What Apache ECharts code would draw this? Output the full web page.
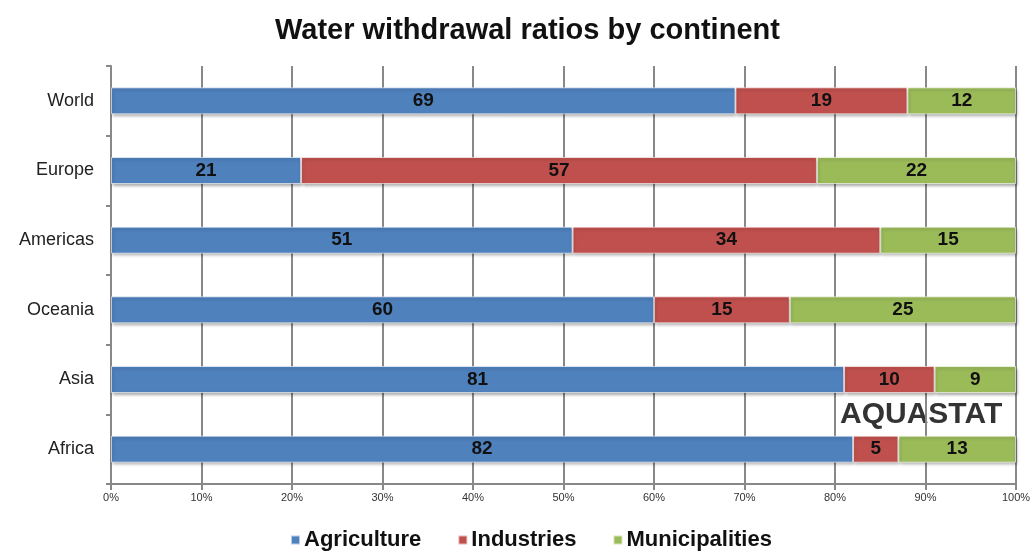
<!DOCTYPE html>
<html><head><meta charset="utf-8">
<script src="https://cdn.jsdelivr.net/npm/echarts@6/dist/echarts.min.js"></script>
<style>html,body{margin:0;padding:0;background:#fff}#c{width:1035px;height:551px}</style>
</head><body><div id="c"></div>
<script>
const categories = ['Africa', 'Asia', 'Oceania', 'Americas', 'Europe', 'World'];
const agriculture = [82, 81, 60, 51, 21, 69];
const industries = [5, 10, 15, 34, 57, 19];
const municipalities = [13, 9, 25, 15, 22, 12];

const chart = echarts.init(document.getElementById('c'), null, {renderer: 'canvas'});
const labelStyle = {show: true, position: 'inside', color: '#111', fontWeight: 'bold', fontSize: 19, fontFamily: 'Liberation Sans, Arial, sans-serif'};
const itemBase = {shadowColor: 'rgba(0,0,0,0.35)', shadowBlur: 3, shadowOffsetY: 2, shadowOffsetX: 1, borderColor: 'rgba(255,255,255,0.6)', borderWidth: 1};
function mk(name, data, color) {
  return {name, type: 'bar', stack: 't', data, barWidth: 27,
    itemStyle: Object.assign({color}, itemBase), label: labelStyle, emphasis: {disabled: true}};
}
chart.setOption({
  animation: false,
  textStyle: {fontFamily: 'Liberation Sans, Arial, sans-serif'},
  title: {text: 'Water withdrawal ratios by continent', left: 270, top: 11,
    textStyle: {fontSize: 29, fontWeight: 'bold', color: '#111'}},
  legend: {top: 524, left: 285, itemWidth: 9, itemHeight: 9, itemGap: 36, icon: 'rect',
    textStyle: {fontSize: 22, fontWeight: 'bold', color: '#111', padding: [0, 0, 0, -1]}},
  grid: {left: 111, right: 19, top: 66, bottom: 67},
  xAxis: {type: 'value', min: 0, max: 100, interval: 10,
    axisLine: {show: true, lineStyle: {color: '#888', width: 2}},
    axisTick: {show: true, length: 6, lineStyle: {color: '#888', width: 2}},
    splitLine: {show: true, lineStyle: {color: '#888', width: 2}},
    axisLabel: {formatter: '{value}%', fontSize: 11, color: '#333', margin: 8}},
  yAxis: {type: 'category', data: categories,
    axisLine: {show: true, lineStyle: {color: '#888', width: 2}},
    axisTick: {show: true, length: 5, lineStyle: {color: '#888', width: 2}},
    axisLabel: {fontSize: 18, color: '#222', margin: 17}},
  graphic: [{type: 'text', left: 840, top: 400,
    style: {text: 'AQUASTAT', font: 'bold 30px Liberation Sans, Arial, sans-serif', fill: '#333',
      shadowColor: 'rgba(0,0,0,0.3)', shadowBlur: 2, shadowOffsetX: 1, shadowOffsetY: 1}}],
  series: [
    mk('Agriculture', agriculture, '#4F81BD'),
    mk('Industries', industries, '#C0504D'),
    mk('Municipalities', municipalities, '#9BBB59')
  ]
});
</script></body></html>
